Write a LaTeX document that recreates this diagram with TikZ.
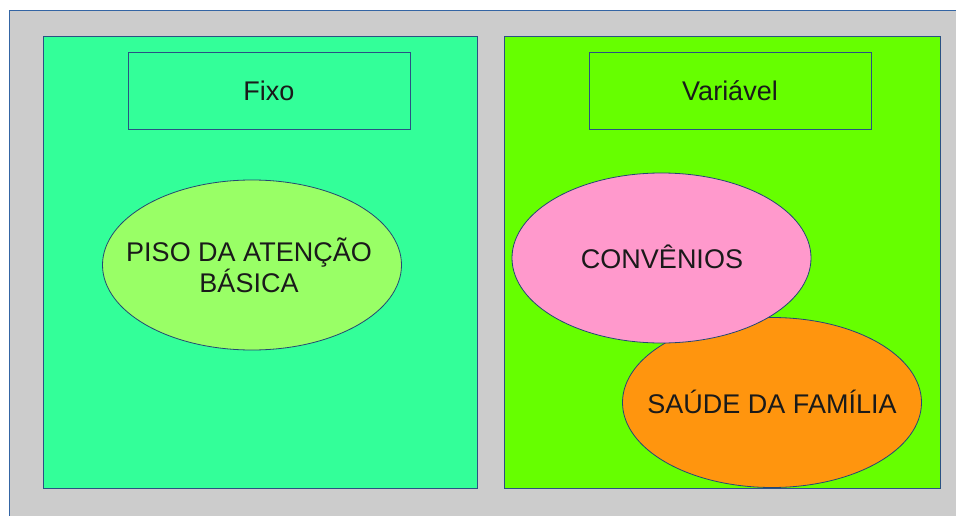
\documentclass[tikz,border=0pt]{standalone}
\usepackage{fontspec}
\setmainfont{Liberation Sans}
\usetikzlibrary{shapes.geometric}
\definecolor{bordc}{HTML}{3465A4}
\definecolor{graybg}{HTML}{CCCCCC}
\definecolor{leftc}{HTML}{33FF99}
\definecolor{rightc}{HTML}{66FF00}
\definecolor{limec}{HTML}{99FF66}
\definecolor{pinkc}{HTML}{FF99CC}
\definecolor{orangec}{HTML}{FF950E}
\definecolor{txtc}{HTML}{1A1A1A}
\tikzset{
  titlebox/.style={draw=bordc!80!black, line width=0.9pt, rectangle, minimum width=282pt, minimum height=77pt, inner sep=0pt, font=\fontsize{27}{31}\selectfont, text=txtc},
  blob/.style={draw=bordc!70!black, line width=0.8pt, ellipse, minimum width=299pt, minimum height=170pt, inner sep=0pt},
  blobtext/.style={font=\fontsize{27}{31}\selectfont, text=txtc, align=center, inner sep=0pt}
}
\begin{document}
\begin{tikzpicture}[x=1pt,y=-1pt]
\useasboundingbox (0,0) rectangle (956,516);
\fill[white] (0,0) rectangle (956,516);
\begin{scope}
\clip (0,0) rectangle (956,516);
\draw[bordc, line width=0.9pt, fill=graybg] (9,10) rectangle (962,522);
\end{scope}
\node[draw=bordc!80!black, line width=0.9pt, fill=leftc, rectangle, minimum width=434pt, minimum height=452pt, inner sep=0pt] (left) at (260,262) {};
\node[draw=bordc!80!black, line width=0.9pt, fill=rightc, rectangle, minimum width=436pt, minimum height=452pt, inner sep=0pt] (right) at (722,262) {};
\node[titlebox] (fixo) at (269,90.5) {Fixo};
\node[titlebox] (var) at (730,90.5) {Variável};
\node[blob, fill=limec] (piso) at (252,265) {};
\node[blobtext] (pisotxt) at (249,265) {PISO DA ATENÇÃO\\BÁSICA};
\node[blob, fill=orangec] (saude) at (772,402.5) {};
\node[blobtext] (saudetxt) at (772,402) {SAÚDE DA FAMÍLIA};
\node[blob, fill=pinkc] (conv) at (661.5,258) {};
\node[blobtext] (convtxt) at (662,257) {CONVÊNIOS};
\end{tikzpicture}
\end{document}
